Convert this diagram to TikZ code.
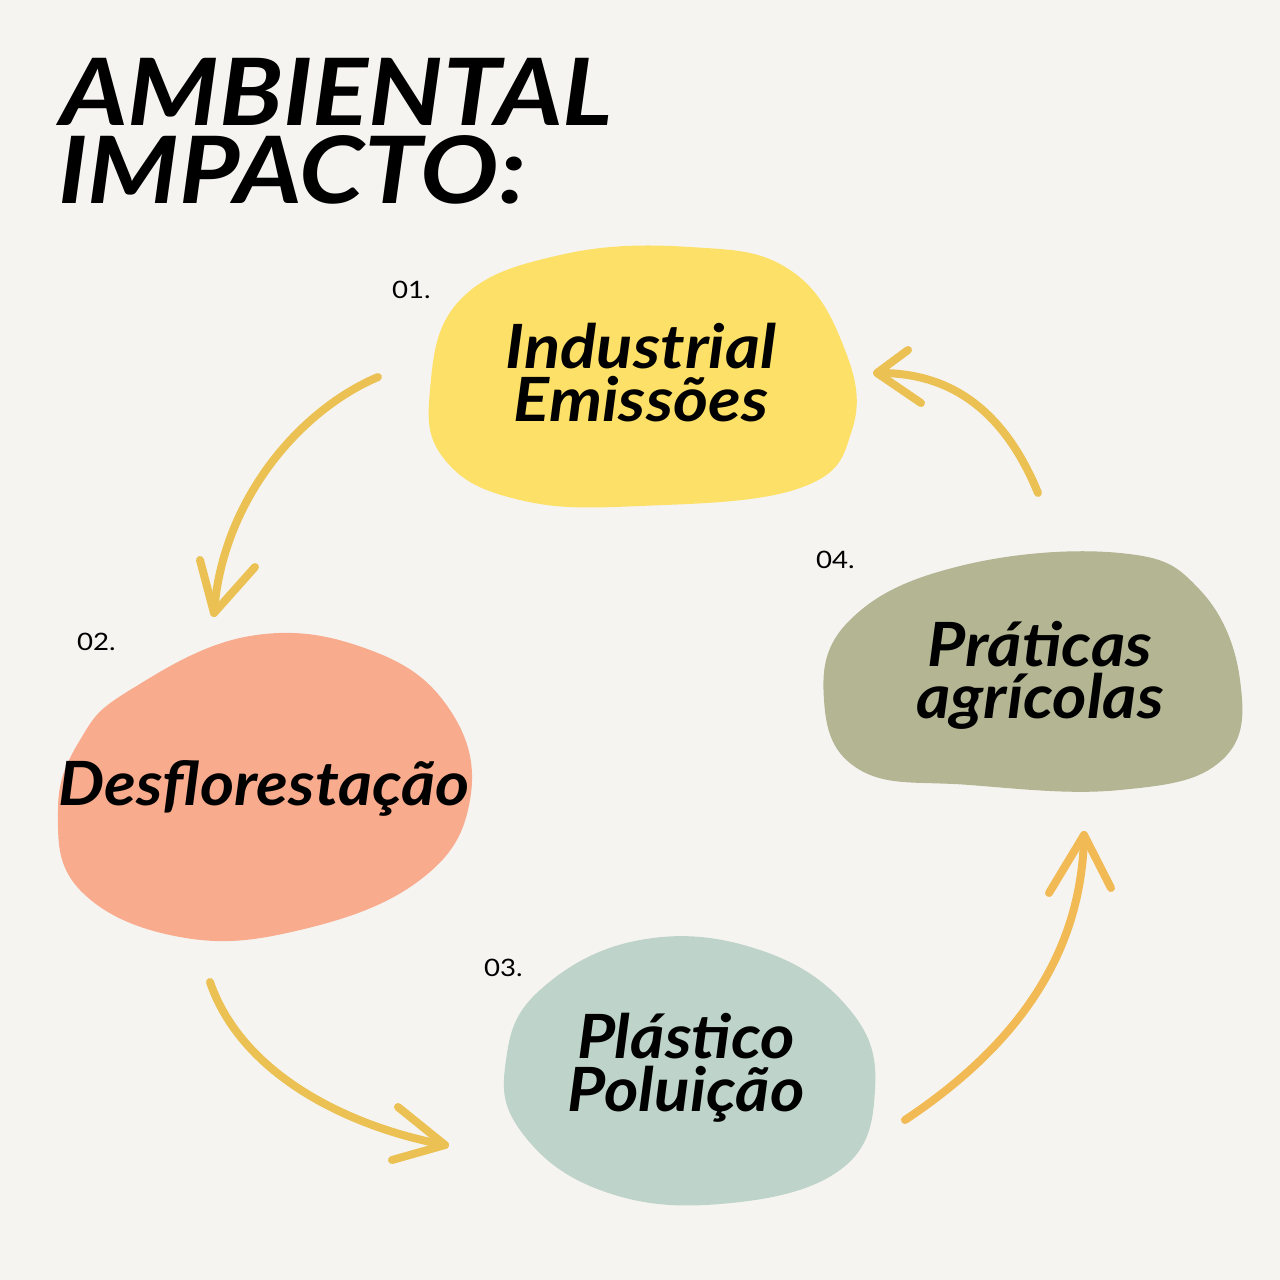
\documentclass[tikz,border=0pt]{standalone}
\usepackage{fontspec}
\setmainfont{Lato}
\definecolor{bg}{HTML}{F6F4F1}
\definecolor{yel}{HTML}{FDE067}
\definecolor{sal}{HTML}{F8AB8D}
\definecolor{olv}{HTML}{B3B593}
\definecolor{blu}{HTML}{BED3C9}
\definecolor{arr}{HTML}{EBC153}
\definecolor{arrb}{HTML}{F1BA55}
\newcommand{\wide}[2]{\scalebox{#1}[1]{#2}}
\tikzset{
  lab/.style={font=\fontsize{61}{54}\selectfont\bfseries\itshape, text=black, inner sep=0pt, anchor=base, text height=44pt, text depth=4pt},
  ttl/.style={font=\fontsize{93}{78}\selectfont\bfseries\itshape, text=black, inner sep=0pt, anchor=base west, text height=68pt, text depth=4pt},
  num/.style={font=\fontsize{24}{24}\selectfont, text=black, inner sep=0pt, anchor=west},
  conn/.style={line width=8pt, line cap=round, line join=round},
}
\begin{document}
\begin{tikzpicture}[x=1pt,y=-1pt]
\fill[bg] (0,0) rectangle (1280,1280);
\useasboundingbox (0,0) rectangle (1280,1280);
% title
\node[ttl] (title1) at (60,125) {\wide{1.12}{AMBIENTAL}};
\node[ttl] (title2) at (58,203) {\wide{1.12}{IMPACTO:}};
% blobs
\fill[yel] plot[smooth cycle, tension=0.7] coordinates {(460,300) (560,255) (690,247) (790,270) (845,350) (852,430) (800,488) (640,506) (520,500) (445,460) (430,390)};
\fill[sal] plot[smooth cycle, tension=0.7] coordinates {(130,690) (250,636) (370,650) (450,710) (470,800) (420,880) (300,930) (180,937) (80,890) (58,810) (80,740)};
\fill[olv] plot[smooth cycle, tension=0.7] coordinates {(850,620) (960,566) (1120,553) (1200,590) (1240,680) (1222,760) (1120,790) (970,785) (860,770) (824,700)};
\fill[blu] plot[smooth cycle, tension=0.7] coordinates {(540,990) (640,940) (760,950) (850,1010) (875,1090) (840,1170) (720,1204) (600,1190) (520,1130) (506,1060)};
% labels
\node[lab] (ind1) at (641,368) {\wide{1.1}{Industrial}};
\node[lab] (ind2) at (641,421) {\wide{1.1}{Emissões}};
\node[lab] (des) at (264,805) {\wide{1.07}{Desflorestação}};
\node[lab] (pra1) at (1040,666) {\wide{1.08}{Práticas}};
\node[lab] (pra2) at (1040,718) {\wide{1.08}{agrícolas}};
\node[lab] (pla1) at (686,1058) {\wide{1.08}{Plástico}};
\node[lab] (pla2) at (686,1111) {\wide{1.08}{Poluição}};
% numbers
\node[num] (n1) at (392,290) {\wide{1.15}{01.}};
\node[num] (n2) at (77,642) {\wide{1.15}{02.}};
\node[num] (n3) at (484,968) {\wide{1.15}{03.}};
\node[num] (n4) at (816,560) {\wide{1.15}{04.}};
% arrow coordinates
\coordinate (a1s) at (378,377); \coordinate (a1t) at (214,613);
\coordinate (a2s) at (1038,493); \coordinate (a2t) at (877,373);
\coordinate (a3s) at (210,982); \coordinate (a3t) at (445,1145);
\coordinate (a4s) at (905,1120); \coordinate (a4t) at (1084,835);
% arrows
\draw[conn, arr] (a1s) .. controls (300,410) and (222,500) .. (a1t);
\draw[conn, arr] (200,560) -- (a1t) -- (255,567);
\draw[conn, arr] (a2s) .. controls (1000,400) and (940,372) .. (a2t);
\draw[conn, arr] (908,350) -- (a2t) -- (921,403);
\draw[conn, arr] (a3s) .. controls (240,1070) and (340,1125) .. (a3t);
\draw[conn, arr] (398,1107) -- (a3t) -- (392,1160);
\draw[conn, arrb] (a4s) .. controls (1010,1050) and (1082,960) .. (a4t);
\draw[conn, arrb] (1049,893) -- (a4t) -- (1111,888);
\end{tikzpicture}
\end{document}
